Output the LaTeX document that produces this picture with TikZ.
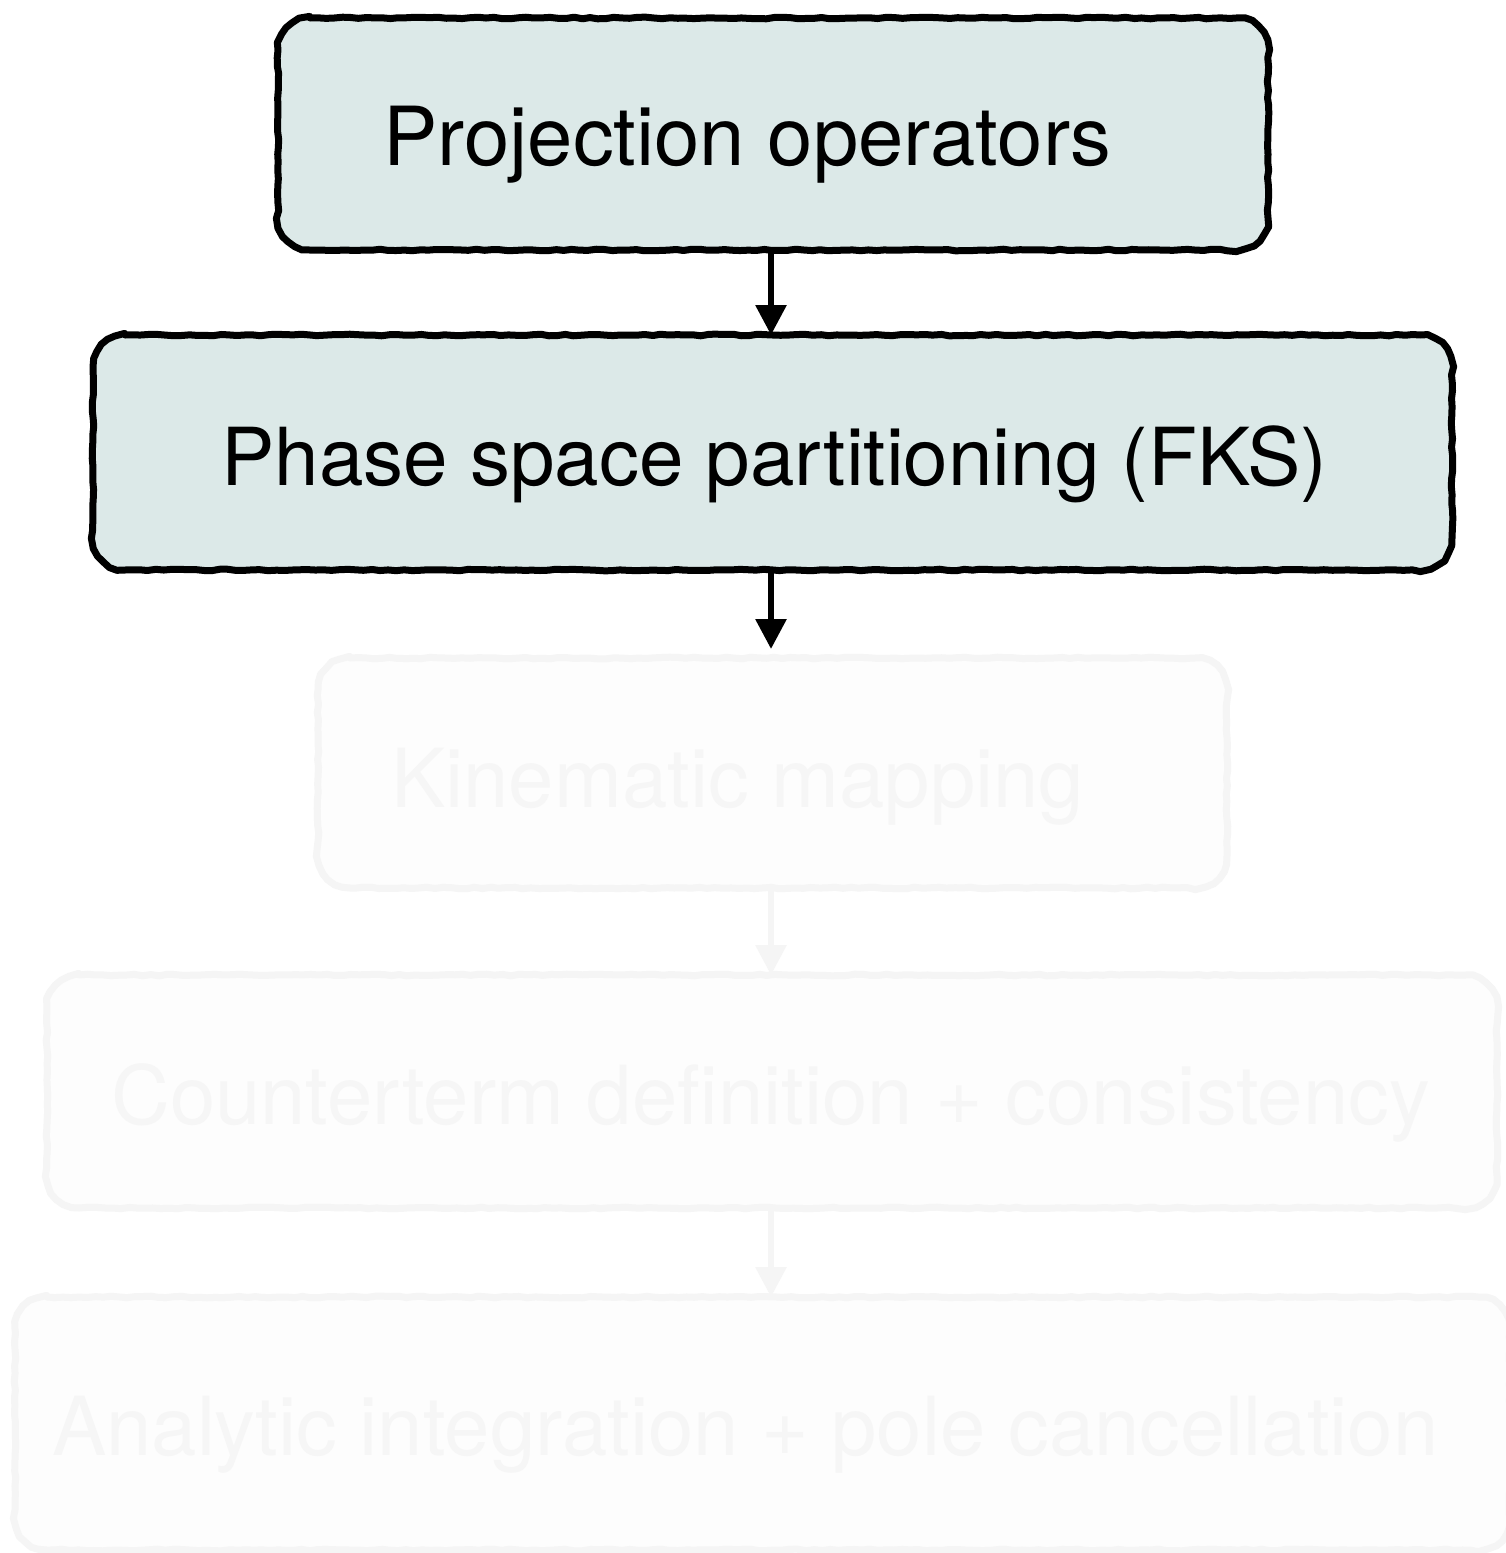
\documentclass[tikz,border=0pt]{standalone}
\usepackage{fontspec}
\setmainfont{TeX Gyre Heros}
\usetikzlibrary{arrows.meta,decorations.pathmorphing}
\definecolor{activefill}{HTML}{DCE9E8}
\definecolor{fadedfill}{HTML}{FDFDFD}
\definecolor{fadedline}{HTML}{F5F5F5}
\definecolor{fadedtext}{HTML}{F6F6F6}
\tikzset{
  stagebox/.style={rectangle, rounded corners=32pt, inner sep=0pt, outer sep=0pt},
  active/.style={stagebox, fill=activefill},
  faded/.style={stagebox, fill=fadedfill},
  sketch/.style={line width=7pt, line join=round, line cap=round,
    decoration={random steps, segment length=8pt, amplitude=0.8pt},
    decorate},
  stagetext/.style={anchor=base west, inner sep=0pt,
    font=\fontsize{81.5}{98}\selectfont},
  flow/.style={line width=6pt, -{Triangle[length=30pt,width=30pt]}},
}
% hand-drawn outline round a named box, corner radius 32pt
\newcommand\sketchframe[2]{%
  \draw[sketch, #2]
    ([xshift=32pt]#1.north west) -- ([xshift=-32pt]#1.north east)
    arc[start angle=90, end angle=0, radius=32pt]
    -- ([yshift=32pt]#1.south east)
    arc[start angle=0, end angle=-90, radius=32pt]
    -- ([xshift=32pt]#1.south west)
    arc[start angle=270, end angle=180, radius=32pt]
    -- ([yshift=-32pt]#1.north west)
    arc[start angle=180, end angle=90, radius=32pt] -- cycle;}
\begin{document}
\begin{tikzpicture}[x=1pt,y=1pt]
\pgfmathsetseed{7}
\useasboundingbox (0,0) rectangle (1505,-1553);
\fill[white] (0,0) rectangle (1505,-1553);

% the five stages of the subtraction scheme
\node[active, minimum width=990pt,  minimum height=232pt] (b1) at (773,-134) {};
\node[active, minimum width=1359pt, minimum height=235pt] (b2) at (772.5,-452.5) {};
\node[faded,  minimum width=909pt,  minimum height=230pt] (b3) at (772.5,-773) {};
\node[faded,  minimum width=1450pt, minimum height=233pt] (b4) at (772,-1091.5) {};
\node[faded,  minimum width=1495pt, minimum height=253pt] (b5) at (762.5,-1423.5) {};

\sketchframe{b1}{draw=black}
\sketchframe{b2}{draw=black}
\sketchframe{b3}{draw=fadedline}
\sketchframe{b4}{draw=fadedline}
\sketchframe{b5}{draw=fadedline}

% labels
\node[stagetext] (t1) at (383,-165)  {Projection operators};
\node[stagetext, font=\fontsize{80}{96}\selectfont] (t2) at (221,-485)  {Phase space partitioning (FKS)};
\node[stagetext, text=fadedtext] (t3) at (391,-807)  {Kinematic mapping};
\node[stagetext, text=fadedtext] (t4) at (111,-1124) {Counterterm definition + consistency};
\node[stagetext, text=fadedtext] (t5) at (52,-1455)  {Analytic integration + pole cancellation};

% connectors
\coordinate (spine) at (771,0);
\draw[flow] (b1.south -| spine) -- (b2.north -| spine);
\draw[flow, shorten >=9pt] (b2.south -| spine) -- (b3.north -| spine);
\draw[flow, draw=fadedline, fill=fadedline] (b3.south -| spine) -- (b4.north -| spine);
\draw[flow, draw=fadedline, fill=fadedline] (b4.south -| spine) -- (b5.north -| spine);
\end{tikzpicture}
\end{document}
